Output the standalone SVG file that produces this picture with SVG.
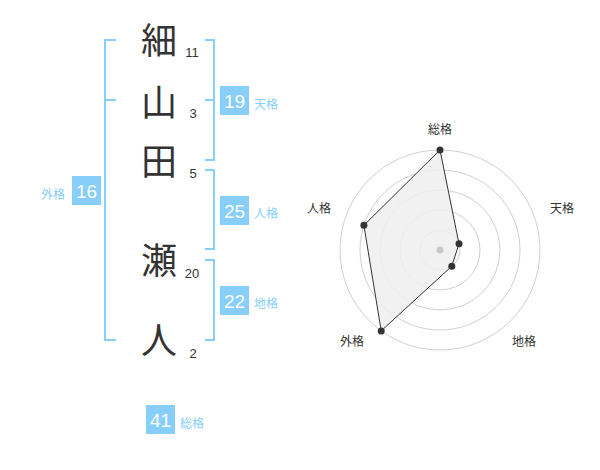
<svg xmlns="http://www.w3.org/2000/svg" width="600" height="470" viewBox="0 0 600 470">
<style>
.k{font-family:"Noto Sans CJK JP","Noto Sans CJK SC",sans-serif;font-size:36px;fill:#333;text-anchor:middle}
.n{font-family:"Liberation Sans",Arial,sans-serif;font-size:13px;fill:#333;text-anchor:middle}
.br{fill:none;stroke:#87cefa;stroke-width:2}
.box{fill:#87cefa}
.bn{font-family:"Liberation Sans",Arial,sans-serif;font-size:19px;fill:#fff;text-anchor:middle}
.bl{font-family:"Noto Sans CJK JP","Noto Sans CJK SC",sans-serif;font-size:12px;fill:#87cefa}
.ax{font-family:"Noto Sans CJK JP","Noto Sans CJK SC",sans-serif;font-size:12px;fill:#333;text-anchor:middle}
.ring{fill:none;stroke:#d0d0d0;stroke-width:1}
</style>
<rect width="600" height="470" fill="#fff"/>
<g id="chars">
<text class="k" x="159" y="54">細</text>
<text class="k" x="159" y="116">山</text>
<text class="k" x="159" y="175">田</text>
<text class="k" x="159" y="274">瀬</text>
<text class="k" x="159" y="354">人</text>
<text class="n" x="192" y="57">11</text>
<text class="n" x="193" y="118">3</text>
<text class="n" x="193" y="178">5</text>
<text class="n" x="192" y="278">20</text>
<text class="n" x="193" y="358">2</text>
</g>
<g id="connectors">
<path class="br" d="M116,40 H105 V340 H116 M105,100 H116"/>
<path class="br" d="M205,40 H214 V160 H205 M205,100 H214"/>
<path class="br" d="M205,170 H214 V249 H205"/>
<path class="br" d="M205,260 H214 V340 H205"/>
</g>
<g id="tenkaku">
<rect class="box" x="220" y="86" width="29" height="29"/>
<text class="bn" x="234.5" y="107.5">19</text>
<text class="bl" x="254" y="109">天格</text>
</g>
<g id="jinkaku">
<rect class="box" x="220" y="196" width="29" height="29"/>
<text class="bn" x="234.5" y="217.5">25</text>
<text class="bl" x="254" y="218">人格</text>
</g>
<g id="chikaku">
<rect class="box" x="220" y="286" width="29" height="29"/>
<text class="bn" x="234.5" y="307.5">22</text>
<text class="bl" x="254" y="308">地格</text>
</g>
<g id="gaikaku">
<rect class="box" x="72" y="176" width="29" height="29"/>
<text class="bn" x="86.5" y="197.5">16</text>
<text class="bl" x="41" y="199">外格</text>
</g>
<g id="soukaku">
<rect class="box" x="146" y="405" width="29" height="29"/>
<text class="bn" x="160.5" y="426.5">41</text>
<text class="bl" x="180" y="428">総格</text>
</g>
<g id="radar">
<circle class="ring" cx="440" cy="250" r="20"/>
<circle class="ring" cx="440" cy="250" r="40"/>
<circle class="ring" cx="440" cy="250" r="60"/>
<circle class="ring" cx="440" cy="250" r="80"/>
<circle class="ring" cx="440" cy="250" r="100"/>
<polygon points="440,150 459,243.8 451.8,266.2 381.2,330.9 363.9,225.3" fill="#eeeeee" fill-opacity="0.85" stroke="#333" stroke-width="1"/>
<circle cx="440" cy="250" r="3.5" fill="#c8c8c8"/>
<g fill="#333">
<circle cx="440" cy="150" r="3.5"/>
<circle cx="459" cy="243.8" r="3.5"/>
<circle cx="451.8" cy="266.2" r="3.5"/>
<circle cx="381.2" cy="330.9" r="3.5"/>
<circle cx="363.9" cy="225.3" r="3.5"/>
</g>
<text class="ax" x="440" y="134">総格</text>
<text class="ax" x="562" y="213">天格</text>
<text class="ax" x="524" y="346">地格</text>
<text class="ax" x="352" y="346">外格</text>
<text class="ax" x="319" y="213">人格</text>
</g>
</svg>
